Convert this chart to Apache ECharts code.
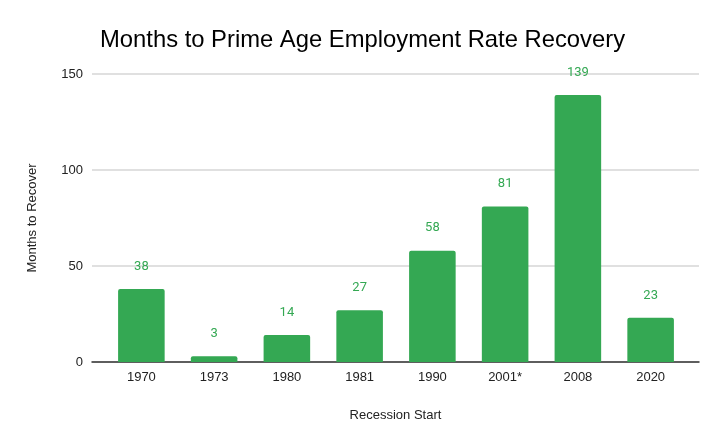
<!DOCTYPE html>
<html><head><meta charset="utf-8">
<script src="https://cdn.jsdelivr.net/npm/echarts@6/dist/echarts.min.js"></script>
<style>html,body{margin:0;padding:0;background:#fff}#c{width:722px;height:446px}</style>
</head><body><div id="c"></div>
<script>
const categories = ['1970','1973','1980','1981','1990','2001*','2008','2020'];
const months = [38, 3, 14, 27, 58, 81, 139, 23];
const yTicks = [0, 50, 100, 150];

const chart = echarts.init(document.getElementById('c'), null, {renderer:'canvas'});
const axisFont = 'Liberation Sans, Arial, sans-serif';
chart.setOption({
  animation:false,
  backgroundColor:'#fff',
  title:{text:'Months to Prime Age Employment Rate Recovery', left:95, top:23,
    textStyle:{fontFamily:axisFont, fontSize:23.8, fontWeight:'normal', color:'#000'}},
  grid:[
    {left:92, right:23, top:74, bottom:84},
    {left:105, right:35, top:74, bottom:84}
  ],
  xAxis:[
    {type:'value', gridIndex:0, min:0, max:1, axisLine:{show:true, onZero:false, lineStyle:{color:'#333', width:1.5}},
     axisTick:{show:false}, axisLabel:{show:false}, splitLine:{show:false},
     name:'Recession Start', nameLocation:'middle', nameGap:47,
     nameTextStyle:{fontFamily:axisFont, fontSize:13, color:'#222'}},
    {type:'category', gridIndex:1, data:categories, axisLine:{show:false}, axisTick:{show:false},
     axisLabel:{fontFamily:axisFont, fontSize:13, color:'#222', margin:9}}
  ],
  yAxis:[
    {type:'value', gridIndex:0, min:yTicks[0], max:yTicks[yTicks.length-1], interval:50,
     axisLine:{show:false}, axisTick:{show:false},
     axisLabel:{fontFamily:axisFont, fontSize:13, color:'#222', margin:9},
     splitLine:{lineStyle:{color:'#d6d6d6', width:1.5}},
     name:'Months to Recover', nameLocation:'middle', nameGap:53, nameRotate:90,
     nameTextStyle:{fontFamily:axisFont, fontSize:13, color:'#222'}},
    {type:'value', gridIndex:1, min:0, max:150, show:false, splitLine:{show:false}}
  ],
  series:[{
    type:'bar', xAxisIndex:1, yAxisIndex:1, data:months, barWidth:'64%',
    itemStyle:{color:'#34a853', borderRadius:[2,2,0,0]},
    label:{show:true, position:'top', distance:16, color:'#34a853',
      fontFamily:'Roboto, sans-serif', fontSize:13}
  }]
});
</script></body></html>
